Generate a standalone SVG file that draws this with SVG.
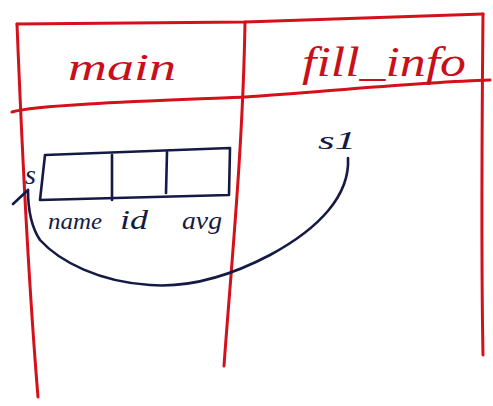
<svg xmlns="http://www.w3.org/2000/svg" width="493" height="406" viewBox="0 0 493 406">
<style>
.red{fill:none;stroke:#d4111b;stroke-width:3;stroke-linecap:round;stroke-linejoin:round}
.ink{fill:none;stroke:#151a45;stroke-width:2.6;stroke-linecap:round;stroke-linejoin:round}
.rt{fill:#c80f1a;font-family:"Liberation Serif",serif;font-style:italic}
.bt{fill:#151a45;font-family:"Liberation Serif",serif;font-style:italic}
</style>
<rect width="493" height="406" fill="#fff"/>
<g id="table">
<path class="red" d="M17,24 L245,22 L483,14"/>
<path class="red" d="M17,24 C22,150 30,300 38,397"/>
<path class="red" d="M245,22 C243,150 230,280 224,366"/>
<path class="red" d="M483,14 C482,120 481,250 483,355"/>
<path class="red" d="M12,112 C40,104 180,100 245,97 C320,92 420,82 490,80"/>
<text class="rt" x="68" y="80" font-size="38" textLength="108" lengthAdjust="spacingAndGlyphs">main</text>
<text class="rt" x="302" y="76" font-size="42" textLength="164" lengthAdjust="spacingAndGlyphs">fill_info</text>
</g>
<g id="struct-s">
<path class="ink" d="M45,155 L230,148 L229,195 L40,200 Z"/>
<path class="ink" d="M112,155 L112,200"/>
<path class="ink" d="M167,152 L166,193"/>
<text class="bt" x="25" y="184" font-size="28">s</text>
<text class="bt" x="48" y="229" font-size="24" textLength="54" lengthAdjust="spacingAndGlyphs">name</text>
<text class="bt" x="120" y="229" font-size="28" textLength="28" lengthAdjust="spacingAndGlyphs">id</text>
<text class="bt" x="182" y="229" font-size="26" textLength="40" lengthAdjust="spacingAndGlyphs">avg</text>
</g>
<g id="pointer-s1">
<text class="bt" x="318" y="149" font-size="26" textLength="38" lengthAdjust="spacingAndGlyphs">s1</text>
</g>
<g id="connectors">
<path class="ink" d="M348,158 C350,195 320,228 270,255 C230,276 190,288 150,285 C100,282 60,262 40,240 C30,225 28,205 28,190"/>
<path class="ink" d="M13,204 L28,190"/>
</g>
</svg>
